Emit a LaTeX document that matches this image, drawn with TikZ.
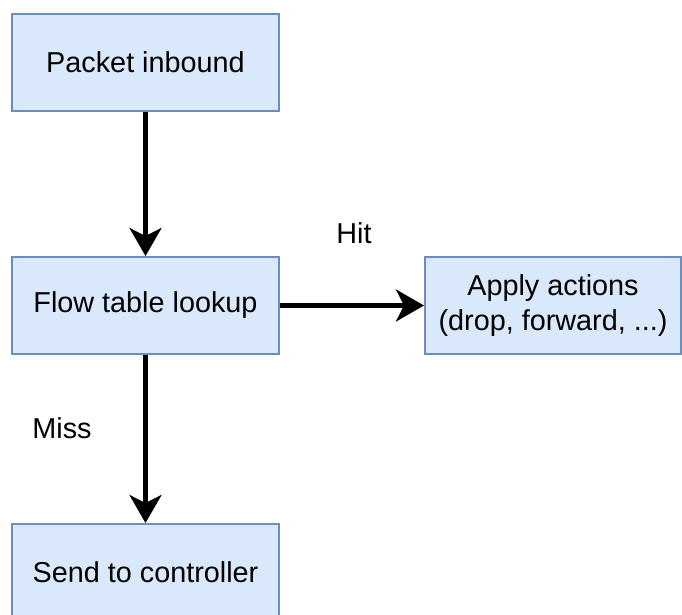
\documentclass[tikz,border=0pt]{standalone}
\usepackage{fontspec}
\setmainfont{Liberation Sans}
\usetikzlibrary{arrows.meta}

\definecolor{boxfill}{HTML}{DAE8FC}
\definecolor{boxline}{HTML}{6C8EBF}

\tikzset{
  stepbox/.style={draw=boxline,fill=boxfill,line width=1pt,
    minimum width=133.5pt,minimum height=48.5pt,inner sep=0pt,
    align=center,font=\fontsize{14.4}{17.5}\selectfont},
  flowarrow/.style={line width=2.1pt,-{Stealth[length=14pt,width=16pt,inset=4pt]}},
  edgelabel/.style={font=\fontsize{14.4}{17.5}\selectfont}
}

\begin{document}
\begin{tikzpicture}[x=0.5pt,y=-0.5pt]
            \useasboundingbox (0,0) rectangle (682,615);

            \node[stepbox] (inbound) at (145.5,62.5) {Packet inbound};
            \node[stepbox] (lookup) at (145.5,305.5) {Flow table lookup};
            \node[stepbox,minimum width=128pt] (apply) at (553,305.5) {Apply actions\\(drop, forward, ...)};
            \node[stepbox] (controller) at (145.5,572.5) {Send to controller};

            \node[edgelabel] (hit) at (354,233) {Hit};
            \node[edgelabel] (miss) at (62,428) {Miss};

            \draw[flowarrow] (inbound) -- (lookup);
            \draw[flowarrow] (lookup) -- (apply);
            \draw[flowarrow] (lookup) -- (controller);
          \end{tikzpicture}
\end{document}
